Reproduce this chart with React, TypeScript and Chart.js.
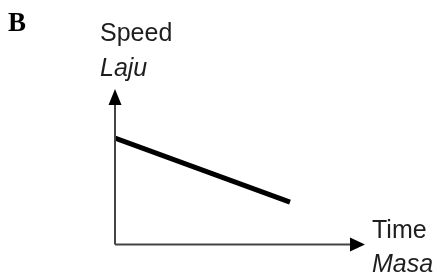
import React, { useEffect, useRef } from "react";
import { Chart, registerables } from "chart.js";

Chart.register(...registerables);

// Data (schematic speed–time graph: speed decreases uniformly)
const timeValues = [0, 7.0];
const speedValues = [6.85, 2.73];
const panelLabel = "B";
const yAxisLabels = ["Speed", "Laju"];
const xAxisLabels = ["Time", "Masa"];

const axesAndLabels = {
  id: "axesAndLabels",
  afterDatasetsDraw(chart: any) {
    const { ctx, chartArea } = chart;
    const { left, right, top, bottom } = chartArea;
    ctx.save();
    // axis lines
    ctx.strokeStyle = "#444";
    ctx.lineWidth = 2;
    ctx.beginPath();
    ctx.moveTo(left, bottom);
    ctx.lineTo(left, top + 12);
    ctx.moveTo(left, bottom);
    ctx.lineTo(right - 12, bottom);
    ctx.stroke();
    // arrow heads
    ctx.fillStyle = "#000";
    ctx.beginPath();
    ctx.moveTo(left, top);
    ctx.lineTo(left - 6.5, top + 16);
    ctx.lineTo(left + 6.5, top + 16);
    ctx.closePath();
    ctx.fill();
    ctx.beginPath();
    ctx.moveTo(right, bottom);
    ctx.lineTo(right - 15, bottom - 7);
    ctx.lineTo(right - 15, bottom + 7);
    ctx.closePath();
    ctx.fill();
    // labels
    ctx.fillStyle = "#1e1e1e";
    ctx.textAlign = "left";
    ctx.textBaseline = "alphabetic";
    ctx.font = "25px 'Liberation Sans', Arial, sans-serif";
    ctx.fillText(yAxisLabels[0], left - 15, 41);
    ctx.fillText(xAxisLabels[0], right + 7, 238);
    ctx.font = "italic 25px 'Liberation Sans', Arial, sans-serif";
    ctx.fillText(yAxisLabels[1], left - 15, 76);
    ctx.fillText(xAxisLabels[1], right + 7, 272);
    ctx.fillStyle = "#000";
    ctx.font = "bold 27px 'Liberation Serif', 'Times New Roman', serif";
    ctx.fillText(panelLabel, 8, 31);
    ctx.restore();
  },
};

export default function App() {
  const canvasRef = useRef<HTMLCanvasElement | null>(null);

  useEffect(() => {
    if (!canvasRef.current) return;
    const chart = new Chart(canvasRef.current, {
      type: "line",
      data: {
        datasets: [
          {
            data: timeValues.map((t, i) => ({ x: t, y: speedValues[i] })),
            borderColor: "#000",
            borderWidth: 5,
            pointRadius: 0,
            fill: false,
            tension: 0,
          },
        ],
      },
      options: {
        animation: false,
        responsive: false,
        events: [],
        layout: { padding: { left: 115, right: 79, top: 89, bottom: 32.5 } },
        plugins: { legend: { display: false }, tooltip: { enabled: false } },
        scales: {
          x: { type: "linear", min: 0, max: 10, display: false },
          y: { type: "linear", min: 0, max: 10, display: false },
        },
      },
      plugins: [axesAndLabels],
    });
    return () => chart.destroy();
  }, []);

  return (
    <div style={{ position: "fixed", left: 0, top: 0, width: 444, height: 277, background: "#fff" }}>
      <canvas ref={canvasRef} width={444} height={277} style={{ display: "block" }} />
    </div>
  );
}
